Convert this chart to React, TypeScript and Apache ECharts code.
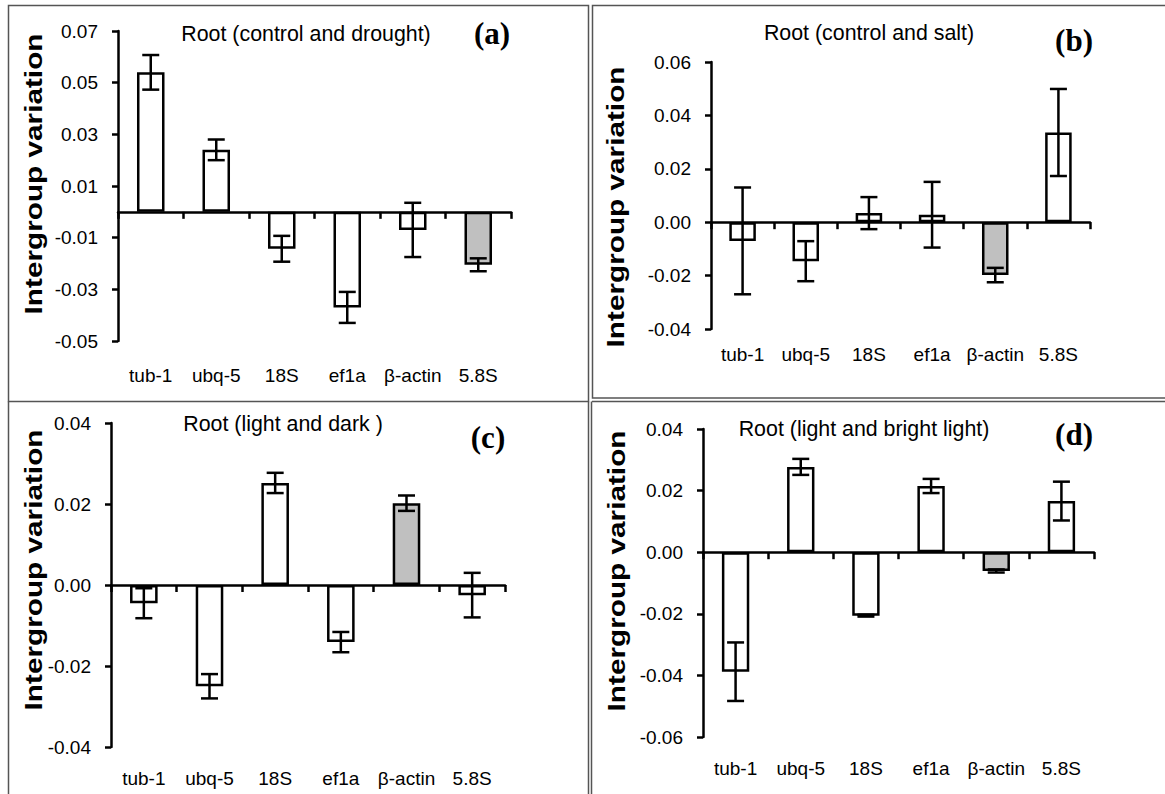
import React, { useEffect, useRef } from "react";
import * as echarts from "echarts";

const categories = ["tub-1", "ubq-5", "18S", "ef1a", "β-actin", "5.8S"];

const valuesA = [0.054, 0.024, -0.0143, -0.037, -0.007, -0.0205];
const errorsA = [0.0067, 0.004, 0.005, 0.006, 0.0105, 0.0025];
const valuesB = [-0.007, -0.0146, 0.0034, 0.0028, -0.0198, 0.0336];
const errorsB = [0.02, 0.0075, 0.006, 0.0123, 0.0027, 0.0163];
const valuesC = [-0.0045, -0.025, 0.0252, -0.0141, 0.0202, -0.0025];
const errorsC = [0.0037, 0.003, 0.0025, 0.0025, 0.0019, 0.0055];
const valuesD = [-0.0388, 0.0277, -0.0206, 0.0215, -0.0061, 0.0166];
const errorsD = [0.0095, 0.0026, 0.0003, 0.0023, 0.0005, 0.0063];

const titles = [
  "Root (control and drought)",
  "Root (control and salt)",
  "Root (light and dark )",
  "Root (light and bright light)",
];
const panelLetters = ["(a)", "(b)", "(c)", "(d)"];
const grayIndex = [5, 4, 4, 4];
const yMins = [-0.05, -0.04, -0.04, -0.06];
const yMaxs = [0.07, 0.06, 0.04, 0.04];
const yInterval = 0.02;
const yName = "Intergroup variation";

const panels = [
  { values: valuesA, errors: errorsA },
  { values: valuesB, errors: errorsB },
  { values: valuesC, errors: errorsC },
  { values: valuesD, errors: errorsD },
];

// layout (pixels)
const grids = [
  { left: 118, top: 31, right: 654, bottom: 453 },
  { left: 711, top: 62, right: 75, bottom: 465 },
  { left: 111, top: 423, right: 660, bottom: 47 },
  { left: 703, top: 429, right: 71, bottom: 57 },
];
const labelMargins = [25, 16, 22, 22];
const titlePos = [
  [306, 33],
  [869, 32],
  [283, 423],
  [864, 428],
];
const letterPos = [
  [492, 33],
  [1074, 40],
  [488, 437],
  [1074, 434],
];
const namePos = [
  [34, 174],
  [616, 207],
  [34, 570],
  [617, 571],
];

const SANS = "'Liberation Sans', Arial, sans-serif";
const SERIF = "'Liberation Serif', 'Times New Roman', serif";

export default function App() {
  const ref = useRef<HTMLDivElement>(null);
  useEffect(() => {
    if (!ref.current) return;
    const chart = echarts.init(ref.current, null, { renderer: "svg" });

    const xAxis: any[] = [];
    const yAxis: any[] = [];
    const series: any[] = [];

    panels.forEach((p, g) => {
      xAxis.push({
        type: "category",
        gridIndex: g,
        data: categories,
        position: "bottom",
        axisLine: { show: true, onZero: true, lineStyle: { color: "#000", width: 2.5 } },
        axisTick: { show: true, inside: false, length: 7, lineStyle: { color: "#000", width: 2.5 } },
        axisLabel: { show: false },
        splitLine: { show: false },
      });
      xAxis.push({
        type: "category",
        gridIndex: g,
        data: categories,
        position: "bottom",
        axisLine: { show: false, onZero: false },
        axisTick: { show: false },
        axisLabel: {
          show: true,
          margin: labelMargins[g],
          fontSize: 19,
          color: "#000",
          fontFamily: SANS,
          interval: 0,
        },
        splitLine: { show: false },
      });
      yAxis.push({
        type: "value",
        gridIndex: g,
        min: yMins[g],
        max: yMaxs[g],
        interval: yInterval,
        axisLine: { show: true, onZero: false, lineStyle: { color: "#000", width: 2.5 } },
        axisTick: { show: true, inside: false, length: 6, lineStyle: { color: "#000", width: 2.5 } },
        axisLabel: {
          fontSize: 19,
          color: "#000",
          fontFamily: SANS,
          margin: 20,
          formatter: (v: number) => v.toFixed(2),
        },
        splitLine: { show: false },
      });
      series.push({
        type: "bar",
        xAxisIndex: 2 * g,
        yAxisIndex: g,
        barWidth: "42%",
        data: p.values.map((v, i) => ({
          value: v,
          itemStyle: {
            color: i === grayIndex[g] ? "#c0c0c0" : "#ffffff",
            borderColor: "#000",
            borderWidth: 2.5,
          },
        })),
        z: 2,
      });
      series.push({
        type: "custom",
        xAxisIndex: 2 * g,
        yAxisIndex: g,
        encode: { x: 0, y: [1, 2] },
        data: p.values.map((v, i) => [i, v - p.errors[i], v + p.errors[i]]),
        z: 5,
        renderItem: (params: any, api: any) => {
          const idx = api.value(0);
          const lo = api.coord([idx, api.value(1)]);
          const hi = api.coord([idx, api.value(2)]);
          const hw = 8.5;
          const st = { stroke: "#000", lineWidth: 2.5 };
          return {
            type: "group",
            children: [
              { type: "line", shape: { x1: lo[0], y1: lo[1], x2: hi[0], y2: hi[1] }, style: st },
              { type: "line", shape: { x1: lo[0] - hw, y1: lo[1], x2: lo[0] + hw, y2: lo[1] }, style: st },
              { type: "line", shape: { x1: hi[0] - hw, y1: hi[1], x2: hi[0] + hw, y2: hi[1] }, style: st },
            ],
          };
        },
      });
    });

    const graphic: any[] = [];
    titles.forEach((t, g) => {
      graphic.push({
        type: "text",
        x: titlePos[g][0],
        y: titlePos[g][1],
        scaleX: 0.93,
        style: {
          text: t,
          fontSize: 23,
          fontFamily: SANS,
          fill: "#000",
          textAlign: "center",
          textVerticalAlign: "middle",
        },
        z: 10,
      });
      graphic.push({
        type: "text",
        x: letterPos[g][0],
        y: letterPos[g][1],
        style: {
          text: panelLetters[g],
          fontSize: 31,
          fontWeight: "bold",
          fontFamily: SERIF,
          fill: "#000",
          textAlign: "center",
          textVerticalAlign: "middle",
        },
        z: 10,
      });
      graphic.push({
        type: "text",
        x: namePos[g][0],
        y: namePos[g][1],
        rotation: Math.PI / 2,
        scaleX: 1.24,
        style: {
          text: yName,
          fontSize: 24,
          fontWeight: "bold",
          fontFamily: SANS,
          fill: "#000",
          textAlign: "center",
          textVerticalAlign: "middle",
        },
        z: 10,
      });
    });
    const border = { stroke: "#555", lineWidth: 1.5, fill: "none" };
    graphic.push({ type: "rect", shape: { x: 8.5, y: 5.5, width: 580, height: 396 }, style: border, silent: true });
    graphic.push({ type: "rect", shape: { x: 592.5, y: 5.5, width: 580, height: 392.5 }, style: border, silent: true });
    graphic.push({ type: "line", shape: { x1: 8.5, y1: 401.5, x2: 8.5, y2: 794 }, style: border, silent: true });
    graphic.push({ type: "line", shape: { x1: 592, y1: 401.5, x2: 1165, y2: 401.5 }, style: border, silent: true });
    graphic.push({ type: "line", shape: { x1: 588.5, y1: 401.5, x2: 588.5, y2: 794 }, style: border, silent: true });
    graphic.push({ type: "line", shape: { x1: 591.5, y1: 401.5, x2: 591.5, y2: 794 }, style: border, silent: true });

    chart.setOption({
      animation: false,
      backgroundColor: "#fff",
      grid: grids.map((g) => ({ ...g, containLabel: false })),
      xAxis,
      yAxis,
      series,
      graphic,
    });
    return () => chart.dispose();
  }, []);
  return (
    <div
      ref={ref}
      style={{ position: "fixed", left: 0, top: 0, width: 1165, height: 794, background: "#fff" }}
    />
  );
}
